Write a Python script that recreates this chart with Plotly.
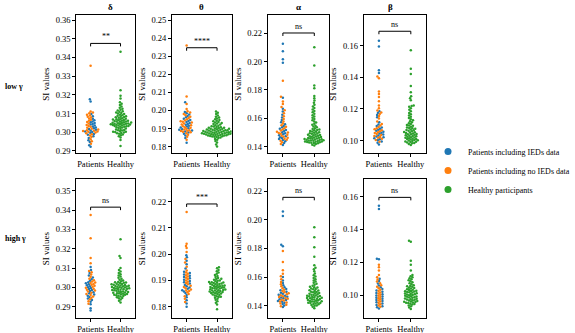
import numpy as np
import plotly.graph_objects as go

# ---- data: SI values per band, low gamma row then high gamma row ----
bands = ["δ", "θ", "α", "β"]
rows = ["low γ", "high γ"]
groups = ["Patients", "Healthy"]
legend_names = ["Patients including IEDs data", "Patients including no IEDs data", "Healthy participants"]

# low gamma
dl_blue = [0.2922, 0.2931, 0.2948, 0.2957, 0.2969, 0.2978, 0.2986, 0.2991, 0.2997, 0.3001, 0.3004, 0.3009, 0.3013,
           0.3017, 0.3021, 0.3026, 0.3031, 0.3036, 0.3041, 0.3044, 0.3049, 0.3053, 0.3058, 0.3064, 0.3072, 0.3086,
           0.3098, 0.3165, 0.3176]
dl_orange = [0.2938, 0.2952, 0.2963, 0.2974, 0.2983, 0.2989, 0.2994, 0.2999, 0.3002, 0.3004, 0.3006, 0.3008, 0.3011,
             0.3015, 0.3019, 0.3024, 0.3029, 0.3034, 0.3039, 0.3047, 0.3055, 0.3061, 0.3067, 0.3074, 0.3079, 0.3083,
             0.3089, 0.3094, 0.3101, 0.3106, 0.3111, 0.3355]
dl_healthy = [0.2926, 0.2958, 0.2972, 0.2979, 0.2984, 0.2988, 0.2992, 0.2995, 0.2996, 0.2998, 0.3001, 0.3003, 0.3003,
              0.3006, 0.3009, 0.3011, 0.3012, 0.3015, 0.3018, 0.3020, 0.3023, 0.3025, 0.3027, 0.3029, 0.3030, 0.3032,
              0.3033, 0.3034, 0.3036, 0.3038, 0.3039, 0.3040, 0.3041, 0.3042, 0.3043, 0.3044, 0.3045, 0.3046, 0.3047,
              0.3048, 0.3050, 0.3051, 0.3052, 0.3054, 0.3056, 0.3057, 0.3058, 0.3060, 0.3061, 0.3062, 0.3064, 0.3066,
              0.3068, 0.3069, 0.3070, 0.3072, 0.3075, 0.3078, 0.3080, 0.3081, 0.3083, 0.3086, 0.3088, 0.3091, 0.3094,
              0.3097, 0.3100, 0.3103, 0.3106, 0.3109, 0.3112, 0.3116, 0.3120, 0.3125, 0.3131, 0.3138, 0.3146, 0.3153,
              0.3160, 0.3180, 0.3195, 0.3225, 0.3430]

tl_blue = [0.1822, 0.1848, 0.1862, 0.1871, 0.1878, 0.1884, 0.1889, 0.1893, 0.1897, 0.1902, 0.1906, 0.1911, 0.1916,
           0.1921, 0.1926, 0.1931, 0.1936, 0.1942, 0.1948, 0.1955, 0.1962, 0.1970, 0.1978, 0.1985, 0.1992, 0.2045]
tl_orange = [0.1838, 0.1855, 0.1866, 0.1874, 0.1880, 0.1882, 0.1886, 0.1888, 0.1891, 0.1895, 0.1899, 0.1904, 0.1908,
             0.1913, 0.1918, 0.1923, 0.1928, 0.1933, 0.1938, 0.1940, 0.1945, 0.1951, 0.1958, 0.1966, 0.1974, 0.1981,
             0.1989, 0.1996, 0.2008, 0.2036, 0.2078, 0.2360]
tl_healthy = [0.1801, 0.1812, 0.1823, 0.1831, 0.1838, 0.1843, 0.1848, 0.1851, 0.1854, 0.1855, 0.1856, 0.1857, 0.1859,
              0.1861, 0.1862, 0.1862, 0.1863, 0.1865, 0.1865, 0.1866, 0.1867, 0.1868, 0.1869, 0.1870, 0.1871, 0.1871,
              0.1872, 0.1873, 0.1874, 0.1874, 0.1875, 0.1876, 0.1877, 0.1878, 0.1879, 0.1879, 0.1880, 0.1881, 0.1882,
              0.1883, 0.1884, 0.1884, 0.1885, 0.1886, 0.1887, 0.1888, 0.1889, 0.1890, 0.1891, 0.1891, 0.1893, 0.1894,
              0.1895, 0.1897, 0.1898, 0.1899, 0.1899, 0.1901, 0.1903, 0.1905, 0.1905, 0.1907, 0.1909, 0.1911, 0.1913,
              0.1916, 0.1919, 0.1922, 0.1925, 0.1928, 0.1931, 0.1934, 0.1937, 0.1940, 0.1944, 0.1948, 0.1952, 0.1956,
              0.1961, 0.1966, 0.1972, 0.1980, 0.1988, 0.1995]

al_blue = [0.1412, 0.1425, 0.1438, 0.1446, 0.1453, 0.1460, 0.1467, 0.1474, 0.1481, 0.1488, 0.1495, 0.1502, 0.1510,
           0.1518, 0.1527, 0.1536, 0.1546, 0.1558, 0.1572, 0.1588, 0.1605, 0.1625, 0.1648, 0.1668, 0.1745, 0.1992,
           0.2016, 0.2074, 0.2126]
al_orange = [0.1418, 0.1431, 0.1442, 0.1449, 0.1456, 0.1463, 0.1470, 0.1477, 0.1484, 0.1491, 0.1497, 0.1499, 0.1505,
             0.1513, 0.1521, 0.1530, 0.1540, 0.1551, 0.1563, 0.1578, 0.1595, 0.1614, 0.1635, 0.1656, 0.1680, 0.1700,
             0.1718, 0.1752, 0.1865]
al_healthy = [0.1408, 0.1414, 0.1419, 0.1423, 0.1426, 0.1428, 0.1429, 0.1431, 0.1433, 0.1435, 0.1436, 0.1437, 0.1439,
              0.1441, 0.1443, 0.1444, 0.1445, 0.1447, 0.1449, 0.1451, 0.1452, 0.1453, 0.1455, 0.1457, 0.1459, 0.1461,
              0.1462, 0.1465, 0.1468, 0.1470, 0.1471, 0.1474, 0.1477, 0.1480, 0.1482, 0.1483, 0.1486, 0.1490, 0.1493,
              0.1494, 0.1498, 0.1502, 0.1505, 0.1506, 0.1510, 0.1515, 0.1518, 0.1520, 0.1525, 0.1530, 0.1536, 0.1542,
              0.1548, 0.1555, 0.1562, 0.1570, 0.1578, 0.1586, 0.1595, 0.1604, 0.1613, 0.1622, 0.1632, 0.1642, 0.1652,
              0.1662, 0.1672, 0.1684, 0.1695, 0.1710, 0.1725, 0.1742, 0.1758, 0.1812, 0.1832, 0.1972, 0.2102]

bl_blue = [0.0975, 0.0986, 0.0994, 0.1001, 0.1008, 0.1014, 0.1020, 0.1026, 0.1032, 0.1038, 0.1044, 0.1050, 0.1056,
           0.1062, 0.1068, 0.1075, 0.1083, 0.1092, 0.1102, 0.1115, 0.1148, 0.1162, 0.1175, 0.1185, 0.1428, 0.1445,
           0.1595, 0.1632]
bl_orange = [0.0992, 0.1004, 0.1011, 0.1017, 0.1023, 0.1029, 0.1035, 0.1041, 0.1047, 0.1053, 0.1059, 0.1065, 0.1071,
             0.1078, 0.1086, 0.1095, 0.1105, 0.1120, 0.1140, 0.1155, 0.1168, 0.1178, 0.1190, 0.1205, 0.1222, 0.1248,
             0.1275, 0.1295, 0.1310, 0.1395, 0.1405]
bl_healthy = [0.0972, 0.0978, 0.0983, 0.0985, 0.0987, 0.0991, 0.0993, 0.0994, 0.0997, 0.1000, 0.1001, 0.1003, 0.1006,
              0.1009, 0.1010, 0.1012, 0.1015, 0.1018, 0.1019, 0.1021, 0.1024, 0.1027, 0.1029, 0.1030, 0.1033, 0.1036,
              0.1039, 0.1040, 0.1042, 0.1045, 0.1048, 0.1051, 0.1052, 0.1054, 0.1058, 0.1062, 0.1065, 0.1066, 0.1070,
              0.1074, 0.1078, 0.1080, 0.1083, 0.1088, 0.1093, 0.1095, 0.1098, 0.1104, 0.1110, 0.1116, 0.1122, 0.1128,
              0.1135, 0.1142, 0.1150, 0.1158, 0.1166, 0.1175, 0.1185, 0.1195, 0.1205, 0.1214, 0.1218, 0.1222, 0.1255,
              0.1268, 0.1280, 0.1305, 0.1345, 0.1422, 0.1455, 0.1572]

# high gamma
dh_blue = [0.2880, 0.2892, 0.2912, 0.2925, 0.2934, 0.2942, 0.2950, 0.2957, 0.2963, 0.2969, 0.2975, 0.2981, 0.2986,
           0.2991, 0.2996, 0.3001, 0.3006, 0.3011, 0.3016, 0.3021, 0.3027, 0.3034, 0.3042, 0.3051, 0.3062, 0.3074,
           0.3090, 0.3105]
dh_orange = [0.2915, 0.2928, 0.2938, 0.2946, 0.2953, 0.2960, 0.2966, 0.2972, 0.2978, 0.2983, 0.2988, 0.2993, 0.2998,
             0.3003, 0.3008, 0.3013, 0.3018, 0.3023, 0.3025, 0.3030, 0.3037, 0.3045, 0.3055, 0.3066, 0.3078, 0.3085,
             0.3125, 0.3152, 0.3255, 0.3375]
dh_healthy = [0.2922, 0.2930, 0.2937, 0.2943, 0.2945, 0.2948, 0.2953, 0.2955, 0.2957, 0.2959, 0.2961, 0.2962, 0.2964,
              0.2966, 0.2967, 0.2969, 0.2970, 0.2972, 0.2973, 0.2976, 0.2976, 0.2979, 0.2980, 0.2982, 0.2983, 0.2985,
              0.2986, 0.2988, 0.2990, 0.2991, 0.2993, 0.2994, 0.2995, 0.2997, 0.2998, 0.2999, 0.3000, 0.3002, 0.3003,
              0.3005, 0.3006, 0.3007, 0.3008, 0.3010, 0.3012, 0.3013, 0.3014, 0.3016, 0.3018, 0.3019, 0.3022, 0.3024,
              0.3025, 0.3027, 0.3028, 0.3032, 0.3036, 0.3040, 0.3045, 0.3050, 0.3056, 0.3062, 0.3068, 0.3075, 0.3082,
              0.3090, 0.3100, 0.3152, 0.3162, 0.3250]

th_blue = [0.1800, 0.1812, 0.1825, 0.1836, 0.1845, 0.1852, 0.1858, 0.1863, 0.1868, 0.1873, 0.1878, 0.1883, 0.1888,
           0.1893, 0.1898, 0.1903, 0.1908, 0.1913, 0.1918, 0.1923, 0.1928, 0.1933, 0.1945, 0.1962, 0.1975, 0.1988,
           0.1996]
th_orange = [0.1818, 0.1830, 0.1840, 0.1848, 0.1855, 0.1860, 0.1862, 0.1865, 0.1870, 0.1875, 0.1880, 0.1885, 0.1890,
             0.1895, 0.1900, 0.1905, 0.1910, 0.1915, 0.1920, 0.1925, 0.1930, 0.1938, 0.1952, 0.1968, 0.1982, 0.2008,
             0.2023, 0.2031, 0.2040, 0.2160]
th_healthy = [0.1790, 0.1808, 0.1815, 0.1821, 0.1826, 0.1830, 0.1834, 0.1837, 0.1838, 0.1840, 0.1843, 0.1845, 0.1846,
              0.1848, 0.1850, 0.1851, 0.1852, 0.1854, 0.1855, 0.1856, 0.1857, 0.1858, 0.1860, 0.1862, 0.1862, 0.1863,
              0.1864, 0.1865, 0.1866, 0.1868, 0.1869, 0.1870, 0.1871, 0.1872, 0.1873, 0.1874, 0.1875, 0.1876, 0.1878,
              0.1879, 0.1880, 0.1881, 0.1882, 0.1884, 0.1885, 0.1886, 0.1887, 0.1888, 0.1890, 0.1891, 0.1892, 0.1893,
              0.1894, 0.1897, 0.1899, 0.1900, 0.1903, 0.1905, 0.1906, 0.1909, 0.1913, 0.1917, 0.1921, 0.1925, 0.1930,
              0.1935, 0.1940, 0.1946, 0.1950]

ah_blue = [0.1390, 0.1402, 0.1412, 0.1420, 0.1427, 0.1433, 0.1439, 0.1445, 0.1451, 0.1457, 0.1463, 0.1469, 0.1476,
           0.1483, 0.1490, 0.1498, 0.1507, 0.1517, 0.1528, 0.1542, 0.1558, 0.1575, 0.1600, 0.1815, 0.1825, 0.2025,
           0.2058]
ah_orange = [0.1396, 0.1406, 0.1415, 0.1423, 0.1430, 0.1436, 0.1442, 0.1448, 0.1454, 0.1460, 0.1466, 0.1472, 0.1479,
             0.1486, 0.1494, 0.1502, 0.1512, 0.1522, 0.1535, 0.1550, 0.1566, 0.1585, 0.1605, 0.1622, 0.1648, 0.1705,
             0.1782]
ah_healthy = [0.1382, 0.1392, 0.1399, 0.1402, 0.1405, 0.1410, 0.1412, 0.1415, 0.1418, 0.1419, 0.1421, 0.1423, 0.1427,
              0.1429, 0.1431, 0.1433, 0.1435, 0.1437, 0.1439, 0.1443, 0.1445, 0.1447, 0.1449, 0.1451, 0.1453, 0.1455,
              0.1459, 0.1461, 0.1463, 0.1465, 0.1467, 0.1469, 0.1471, 0.1475, 0.1477, 0.1479, 0.1483, 0.1486, 0.1488,
              0.1493, 0.1496, 0.1498, 0.1503, 0.1506, 0.1508, 0.1514, 0.1517, 0.1520, 0.1526, 0.1529, 0.1532, 0.1539,
              0.1546, 0.1553, 0.1560, 0.1568, 0.1576, 0.1585, 0.1594, 0.1603, 0.1612, 0.1625, 0.1640, 0.1655, 0.1665,
              0.1682, 0.1742, 0.1808, 0.1878, 0.1948]

bh_blue = [0.0918, 0.0925, 0.0932, 0.0940, 0.0948, 0.0956, 0.0963, 0.0970, 0.0977, 0.0984, 0.0991, 0.0998, 0.1005,
           0.1012, 0.1020, 0.1028, 0.1037, 0.1047, 0.1058, 0.1070, 0.1085, 0.1100, 0.1218, 0.1222, 0.1525, 0.1545]
bh_orange = [0.0928, 0.0936, 0.0944, 0.0952, 0.0960, 0.0967, 0.0974, 0.0981, 0.0988, 0.0995, 0.1002, 0.1009, 0.1016,
             0.1024, 0.1032, 0.1041, 0.1050, 0.1060, 0.1072, 0.1082, 0.1095, 0.1108, 0.1122, 0.1150, 0.1170, 0.1185]
bh_healthy = [0.0915, 0.0924, 0.0931, 0.0937, 0.0942, 0.0945, 0.0947, 0.0951, 0.0953, 0.0955, 0.0957, 0.0959, 0.0961,
              0.0963, 0.0967, 0.0969, 0.0971, 0.0973, 0.0975, 0.0977, 0.0979, 0.0983, 0.0985, 0.0987, 0.0989, 0.0991,
              0.0993, 0.0995, 0.0999, 0.1001, 0.1003, 0.1005, 0.1007, 0.1009, 0.1011, 0.1015, 0.1017, 0.1019, 0.1021,
              0.1023, 0.1025, 0.1027, 0.1031, 0.1033, 0.1035, 0.1040, 0.1043, 0.1045, 0.1050, 0.1053, 0.1055, 0.1060,
              0.1066, 0.1072, 0.1078, 0.1084, 0.1090, 0.1096, 0.1102, 0.1108, 0.1115, 0.1122, 0.1150, 0.1185, 0.1210,
              0.1325, 0.1332]

blue_sets = [dl_blue, tl_blue, al_blue, bl_blue, dh_blue, th_blue, ah_blue, bh_blue]
orange_sets = [dl_orange, tl_orange, al_orange, bl_orange, dh_orange, th_orange, ah_orange, bh_orange]
healthy_sets = [dl_healthy, tl_healthy, al_healthy, bl_healthy, dh_healthy, th_healthy, ah_healthy, bh_healthy]

# significance: bracket level and label per panel
sig_level = [0.3475, 0.2347, 0.2202, 0.1692, 0.3416, 0.2191, 0.2156, 0.1596]
sig_label = ["**", "****", "ns", "ns", "ns", "***", "ns", "ns"]

# axis setup
y_ranges = [[0.2889, 0.3627], [0.1765, 0.2528], [0.1355, 0.2329], [0.0921, 0.1795],
            [0.2841, 0.3562], [0.1757, 0.2286], [0.1314, 0.2284], [0.0860, 0.1708]]
y_dticks = [0.01, 0.01, 0.02, 0.02, 0.01, 0.01, 0.02, 0.02]

W, H = 575, 333
col_px = [(78, 138), (176, 237), (274, 337), (372, 436)]
row_px = [(15, 153), (179, 318)]
row_label_px = [80, 245]
X_RANGE = [-0.48, 1.48]
BLUE, ORANGE, GREEN = "#1f77b4", "#ff7f0e", "#2ca02c"
FONT = "Liberation Serif"
MS = 2.5   # marker size px
GAP = 2.2  # swarm spacing px


def swarm(vals, px_per_unit, d):
    # seaborn-like beeswarm, returns x offsets in px
    vals = np.asarray(vals, dtype=float)
    ys = vals * px_per_unit
    offs = np.zeros(len(vals))
    placed = []
    for i in np.argsort(vals, kind="stable"):
        y = ys[i]
        near = [(py, px) for py, px in placed if abs(py - y) < d]
        cands = [0.0]
        for py, px in near:
            dx = np.sqrt(d * d - (py - y) ** 2)
            cands += [px + dx, px - dx]
        cands.sort(key=lambda c: (abs(c), c))
        for c in cands:
            if all((c - px) ** 2 + (y - py) ** 2 >= d * d - 1e-6 for py, px in near):
                offs[i] = c
                break
        placed.append((y, offs[i]))
    return offs


fig = go.Figure()
layout = {}
axis_font = dict(family=FONT, size=8.5, color="black")

for k in range(8):
    r, c = divmod(k, 4)
    n = k + 1
    xs = "x" if n == 1 else f"x{n}"
    ys = "y" if n == 1 else f"y{n}"
    x0, x1 = col_px[c]
    top, bot = row_px[r]
    ypx = (bot - top) / (y_ranges[k][1] - y_ranges[k][0])
    xpx = (x1 - x0) / (X_RANGE[1] - X_RANGE[0])

    pts = blue_sets[k] + orange_sets[k]
    off = swarm(pts, ypx, GAP) / xpx
    nb = len(blue_sets[k])
    hoff = swarm(healthy_sets[k], ypx, GAP) / xpx

    fig.add_trace(go.Scatter(x=off[:nb], y=blue_sets[k], mode="markers", xaxis=xs, yaxis=ys,
                             marker=dict(size=MS, color=BLUE, line_width=0), showlegend=False))
    fig.add_trace(go.Scatter(x=off[nb:], y=orange_sets[k], mode="markers", xaxis=xs, yaxis=ys,
                             marker=dict(size=MS, color=ORANGE, line_width=0), showlegend=False))
    fig.add_trace(go.Scatter(x=1 + hoff, y=healthy_sets[k], mode="markers", xaxis=xs, yaxis=ys,
                             marker=dict(size=MS, color=GREEN, line_width=0), showlegend=False))

    layout[f"xaxis{n}"] = dict(domain=[x0 / W, x1 / W], range=X_RANGE, anchor=ys,
                               tickvals=[0, 1], ticktext=groups, ticks="outside", ticklen=3,
                               tickcolor="black", showline=True, mirror=True, linecolor="black",
                               linewidth=1, showgrid=False, zeroline=False, tickfont=axis_font)
    layout[f"yaxis{n}"] = dict(domain=[1 - bot / H, 1 - top / H], range=y_ranges[k], anchor=xs,
                               dtick=y_dticks[k], tickformat=".2f", ticks="outside", ticklen=3,
                               tickcolor="black", showline=True, mirror=True, linecolor="black",
                               linewidth=1, showgrid=False, zeroline=False, tickfont=axis_font,
                               title=dict(text="SI values", font=dict(family=FONT, size=9, color="black"),
                                          standoff=4))

    # significance bracket
    yb = sig_level[k]
    drop = 3 / ypx
    fig.add_shape(type="path", xref=xs, yref=ys,
                  path=f"M 0,{yb - drop} L 0,{yb} L 1,{yb} L 1,{yb - drop}",
                  line=dict(color="black", width=1))
    fig.add_annotation(x=0.5, y=yb, xref=xs, yref=ys, text=sig_label[k], showarrow=False,
                       yanchor="bottom", yshift=0, font=dict(family=FONT, size=8, color="black"))

# band titles and row labels
for c, b in enumerate(bands):
    x0, x1 = col_px[c]
    fig.add_annotation(x=(x0 + x1) / 2 / W, y=1, xref="paper", yref="paper", text=f"<b>{b}</b>",
                       yanchor="top", showarrow=False, font=dict(family=FONT, size=9, color="black"))
for r, lab in enumerate(rows):
    fig.add_annotation(x=3 / W, y=1 - row_label_px[r] / H, xref="paper", yref="paper", text=f"<b>{lab}</b>",
                       xanchor="left", showarrow=False, font=dict(family=FONT, size=8, color="black"))

# legend entries
for name, col in zip(legend_names, [BLUE, ORANGE, GREEN]):
    fig.add_trace(go.Scatter(x=[None], y=[None], mode="markers", name=name,
                             marker=dict(size=7, color=col)))

fig.update_layout(**layout)
fig.update_layout(template="none", width=W, height=H, margin=dict(l=0, r=0, t=0, b=0),
                  plot_bgcolor="white", paper_bgcolor="white",
                  font=dict(family=FONT, size=8.5, color="black"),
                  legend=dict(x=438 / W, y=1 - 137 / H, xanchor="left", yanchor="top",
                              font=dict(family=FONT, size=8, color="black"),
                              tracegroupgap=0, itemwidth=30, bgcolor="rgba(0,0,0,0)"))

# page body has a default 8px margin; drop it so the figure sits at the window corner
fig.write_html("out.html", config={"displayModeBar": False},
               post_script="document.body.style.margin='0';")
